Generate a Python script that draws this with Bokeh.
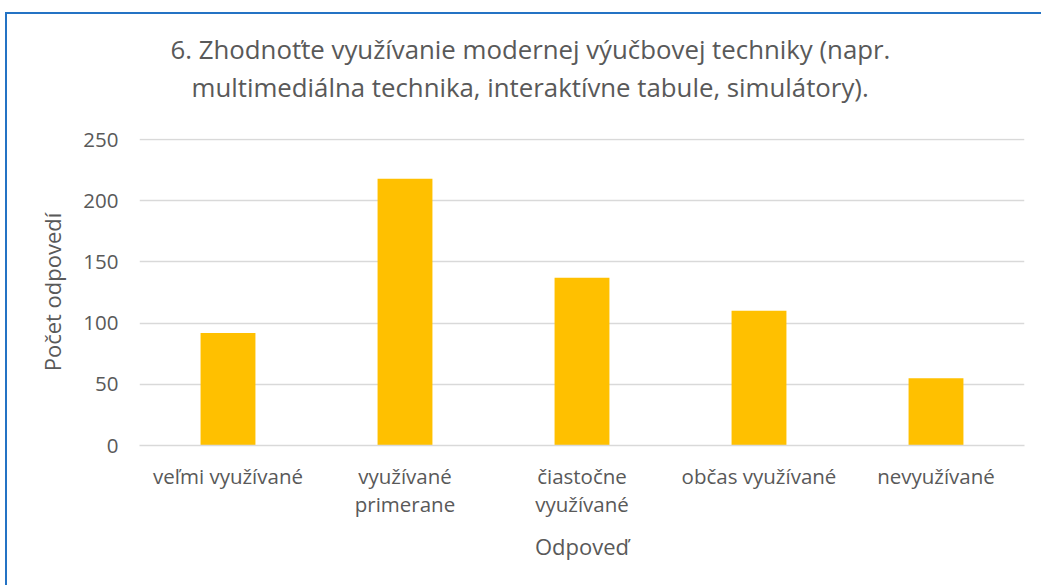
from bokeh.plotting import figure
from bokeh.models import Range1d, FixedTicker, ColumnDataSource, LinearAxis, Title, InlineStyleSheet
from bokeh.embed import file_html
from bokeh.resources import INLINE

categories = ["veľmi využívané", "využívané primerane", "čiastočne využívané", "občas využívané", "nevyužívané"]
label_line1 = ["veľmi využívané", "využívané", "čiastočne", "občas využívané", "nevyužívané"]
label_line2 = ["", "primerane", "využívané", "", ""]
values = [92, 218, 137, 110, 55]
y_ticks = [0, 50, 100, 150, 200, 250]
title_lines = ["6. Zhodnoťte využívanie modernej výučbovej techniky (napr.",
               "multimediálna technika, interaktívne tabule, simulátory)."]
x_title = "Odpoveď"
y_title = "Počet odpovedí"

FONT = "Open Sans"
TXT = "#595959"
GRID = "#D9D9D9"
BLUE = "#2473C4"
TITLE_SIZE = "25.8px"

W, H = 1033, 577
FL, FT, FR, FB = 139, 138, 1024, 445  # frame edges in canvas pixels
p = figure(width=W, height=H, x_range=Range1d(0, len(categories)),
           y_range=Range1d(0, 250.82), output_backend="svg", toolbar_location=None,
           min_border_left=FL, min_border_right=W - FR, min_border_top=FT, min_border_bottom=H - FB)

xs = [i + 0.5 for i in range(len(categories))]
src = ColumnDataSource(dict(x=xs, top=values, cat=categories))
p.vbar(x="x", top="top", width=0.31, source=src, fill_color="#FFC000", line_color=None)

p.outline_line_color = None
p.background_fill_color = "white"
p.border_fill_color = "white"

p.xgrid.grid_line_color = None
p.ygrid.grid_line_color = GRID
p.ygrid.grid_line_width = 1.5

yax = p.yaxis[0]
yax.ticker = FixedTicker(ticks=y_ticks)
yax.axis_line_color = None
yax.major_tick_line_color = None
yax.minor_tick_line_color = None
yax.major_tick_out = 0
yax.major_tick_in = 0
yax.major_label_text_font = FONT
yax.major_label_text_font_size = "20.5px"
yax.major_label_text_color = TXT
yax.major_label_standoff = 21
yax.axis_label = y_title
yax.axis_label_text_font = FONT
yax.axis_label_text_font_size = "22px"
yax.axis_label_text_font_style = "normal"
yax.axis_label_text_color = TXT
yax.axis_label_standoff = 13


def style_x(ax, labels, standoff):
    ax.ticker = FixedTicker(ticks=xs)
    ax.major_tick_line_color = None
    ax.minor_tick_line_color = None
    ax.major_tick_out = 0
    ax.major_tick_in = 0
    ax.major_label_overrides = {x: l for x, l in zip(xs, labels)}
    ax.major_label_text_font = FONT
    ax.major_label_text_font_size = "20.5px"
    ax.major_label_text_color = TXT
    ax.major_label_standoff = standoff


xax = p.xaxis[0]
style_x(xax, label_line1, 16)
xax.axis_line_color = GRID
xax.axis_line_width = 1.5

xax2 = LinearAxis()
style_x(xax2, label_line2, -3)
xax2.axis_line_color = None
xax2.axis_label = x_title
xax2.axis_label_text_font = FONT
xax2.axis_label_text_font_size = "22px"
xax2.axis_label_text_font_style = "normal"
xax2.axis_label_text_color = TXT
xax2.axis_label_standoff = 10
p.add_layout(xax2, "below")


def title_part(text, offset, standoff):
    return Title(text=text, align="left", offset=offset, standoff=standoff,
                 text_font=FONT, text_font_size=TITLE_SIZE, text_font_style="normal",
                 text_color=TXT)


# title panels are stacked from the frame outward: spacer, second line, first line
p.add_layout(title_part(" ", 0, -4), "above")
p.add_layout(title_part(title_lines[1], 52, 0), "above")
p.add_layout(title_part(title_lines[0], 31, 0), "above")

# chart-area border (only its top and left edges are visible in the reference)
border_css = f"""
:host {{ position: relative; }}
:host::before {{
  content: ""; position: absolute; left: 5px; top: 12px; width: 2px; height: 700px;
  background: {BLUE}; z-index: 10; pointer-events: none;
}}
:host::after {{
  content: ""; position: absolute; left: 5px; top: 12px; width: 1200px; height: 2px;
  background: {BLUE}; z-index: 10; pointer-events: none;
}}
"""
p.stylesheets = [InlineStyleSheet(css=border_css)]

open("out.html", "w").write(file_html(p, INLINE))
